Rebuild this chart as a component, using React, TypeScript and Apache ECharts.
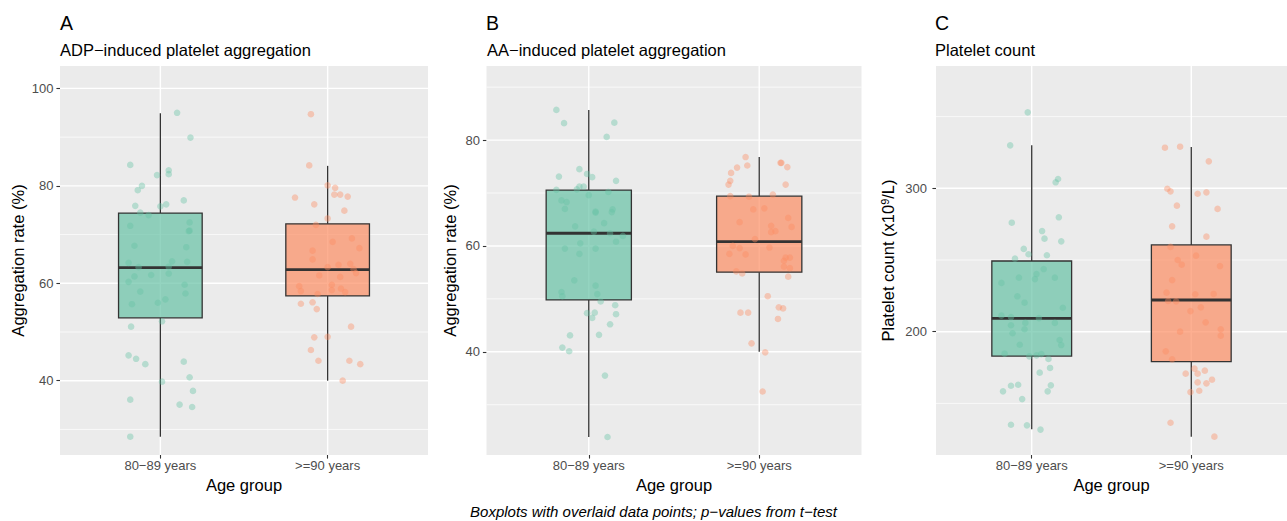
import React, { useEffect, useRef } from "react";
import * as echarts from "echarts";

const FONT = '"Liberation Sans", Arial, Helvetica, sans-serif';

// ---------- categories / texts ----------
const groups = ["80−89 years", ">=90 years"];
const groupPos = [1, 2];
const panelTags = ["A", "B", "C"];
const panelTitles = [
  "ADP−induced platelet aggregation",
  "AA−induced platelet aggregation",
  "Platelet count",
];
const xTitle = "Age group";
const yTitles = [
  "Aggregation rate (%)",
  "Aggregation rate (%)",
  "{t|Platelet count (x10}{s|9}{t|/L)}",
];
const caption = "Boxplots with overlaid data points; p−values from t−test";

// ---------- axis ticks ----------
const adpTicks = [40, 60, 80, 100];
const adpMinor = [30, 50, 70, 90];
const adpRange = [24.75, 104.6];
const aaTicks = [40, 60, 80];
const aaMinor = [30, 50, 70, 90];
const aaRange = [20.5, 94.0];
const pltTicks = [200, 300];
const pltMinor = [150, 250, 350];
const pltRange = [114.0, 385.3];
const xRange = [0.4, 2.6];

// ---------- box statistics: [lower whisker, Q1, median, Q3, upper whisker] ----------
const adpBox = [
  [28.5, 52.9, 63.2, 74.4, 94.9],
  [40.0, 57.4, 62.8, 72.2, 84.1],
];
const aaBox = [
  [23.9, 49.8, 62.4, 70.55, 85.7],
  [40.0, 55.05, 60.8, 69.4, 76.8],
];
const pltBox = [
  [131.9, 183.0, 209.3, 249.3, 330.0],
  [126.8, 179.1, 222.1, 260.5, 328.8],
];

// ---------- individual points (values + horizontal jitter) ----------
const adpYoungVals = [95.0, 89.9, 84.3, 83.2, 82.4, 82.2, 80.0, 79.1, 77.0, 76.2, 75.8, 75.9, 74.5, 74.0, 71.8, 72.5, 70.8, 70.7, 67.7, 67.4, 64.2, 64.5, 64.4, 63.3, 63.4, 61.7, 62.0, 61.4, 60.3, 59.7, 58.3, 57.9, 56.7, 55.7, 56.0, 52.2, 51.1, 45.2, 44.5, 43.4, 43.9, 39.8, 40.7, 37.9, 36.1, 35.1, 34.6, 28.5];
const adpYoungJit = [0.10, 0.18, -0.18, 0.05, 0.05, -0.02, -0.11, -0.135, 0.14, 0.035, 0.0, -0.15, -0.12, -0.07, -0.18, 0.175, 0.175, 0.17, -0.155, 0.155, -0.19, 0.07, 0.16, -0.13, 0.05, -0.055, 0.05, -0.155, -0.19, 0.145, -0.12, 0.15, 0.03, -0.17, -0.015, 0.01, -0.175, -0.19, -0.145, -0.09, 0.14, 0.01, 0.175, 0.195, -0.18, 0.115, 0.19, -0.18];
const adpOldVals = [94.7, 84.2, 80.1, 79.6, 78.2, 78.2, 77.8, 77.6, 76.2, 74.9, 73.3, 72.0, 69.2, 68.5, 67.2, 66.7, 64.9, 63.3, 63.8, 64.0, 62.9, 62.1, 61.6, 61.3, 59.4, 59.7, 58.9, 58.4, 58.6, 58.2, 57.8, 55.8, 56.1, 54.7, 51.1, 48.9, 49.0, 46.3, 44.1, 44.1, 43.4, 40.0];
const adpOldJit = [-0.10, -0.11, 0.0, 0.045, 0.04, 0.075, 0.12, -0.195, -0.08, 0.10, 0.0, -0.07, 0.145, 0.03, 0.19, -0.09, -0.09, 0.0, 0.065, 0.135, 0.155, 0.17, -0.05, 0.075, -0.17, 0.025, 0.08, -0.16, 0.025, 0.105, -0.06, -0.16, -0.09, -0.065, 0.14, -0.08, 0.0, -0.10, -0.055, 0.13, 0.195, 0.09];

const aaYoungVals = [85.7, 83.2, 83.3, 80.6, 74.5, 73.1, 73.6, 73.0, 72.3, 70.6, 70.7, 71.2, 71.2, 69.6, 70.2, 68.6, 68.3, 67.0, 66.5, 66.3, 66.4, 66.9, 64.3, 63.7, 62.7, 62.4, 61.9, 60.8, 60.5, 59.5, 59.5, 58.5, 53.5, 52.5, 51.3, 50.5, 50.9, 49.5, 48.8, 47.3, 47.4, 46.4, 47.1, 45.2, 43.1, 43.2, 40.8, 40.1, 35.5, 23.9];
const aaYoungJit = [-0.19, -0.145, 0.15, 0.105, -0.055, -0.175, -0.01, 0.02, 0.16, -0.19, -0.07, -0.055, -0.03, 0.0, 0.115, -0.16, -0.13, -0.14, 0.04, 0.04, 0.135, 0.14, 0.09, -0.08, 0.03, 0.125, 0.2, 0.16, -0.05, -0.14, 0.04, -0.055, -0.085, 0.04, -0.16, -0.155, 0.05, 0.07, 0.155, -0.01, 0.035, 0.02, 0.16, 0.125, -0.11, 0.06, -0.155, -0.115, 0.095, 0.11];
const aaOldVals = [76.8, 74.8, 75.2, 73.8, 75.7, 75.7, 74.9, 72.3, 71.6, 71.6, 69.4, 69.3, 69.7, 66.9, 67.1, 64.5, 65.3, 63.6, 63.8, 62.8, 62.6, 61.3, 60.0, 59.6, 59.7, 58.5, 58.4, 57.8, 57.8, 57.2, 56.1, 55.8, 55.2, 54.8, 54.2, 50.5, 47.4, 47.4, 48.4, 48.2, 46.2, 41.6, 39.9, 32.5];
const aaOldJit = [-0.08, -0.13, -0.07, -0.165, 0.125, 0.13, 0.165, -0.17, -0.18, 0.155, -0.17, -0.06, 0.08, -0.035, 0.03, -0.115, 0.17, 0.19, 0.07, 0.095, 0.07, -0.025, -0.155, -0.115, 0.06, -0.175, -0.08, 0.155, 0.18, 0.145, 0.145, 0.18, -0.135, -0.10, 0.17, 0.05, -0.11, -0.065, 0.115, 0.14, 0.11, -0.045, 0.035, 0.02];

const pltYoungVals = [353.0, 330.0, 306.5, 304.2, 276.0, 279.8, 270.2, 264.9, 263.0, 257.7, 254.0, 253.3, 250.9, 243.7, 240.2, 237.7, 237.7, 236.7, 234.0, 224.7, 220.2, 216.7, 211.2, 210.2, 209.5, 204.5, 206.1, 206.1, 201.7, 198.9, 194.2, 190.7, 190.9, 184.7, 182.8, 183.5, 184.4, 181.0, 174.7, 171.4, 162.3, 163.0, 162.6, 158.4, 158.4, 153.0, 135.1, 134.7, 131.7];
const pltYoungJit = [-0.025, -0.135, 0.165, 0.15, -0.125, 0.17, 0.065, 0.08, 0.185, -0.05, -0.02, 0.095, -0.105, 0.075, 0.03, -0.08, 0.145, 0.02, -0.19, -0.09, -0.045, 0.195, -0.19, -0.13, 0.045, -0.13, -0.04, 0.145, -0.045, -0.12, 0.175, 0.185, -0.075, -0.17, -0.015, 0.03, 0.06, 0.105, 0.115, 0.05, -0.13, -0.085, 0.12, -0.18, 0.10, -0.06, -0.13, -0.03, 0.055];
const pltOldVals = [328.3, 329.0, 318.8, 299.7, 297.9, 296.2, 297.2, 287.9, 285.6, 273.5, 266.3, 259.1, 253.0, 250.0, 246.7, 245.8, 236.0, 227.2, 226.1, 226.3, 221.4, 221.2, 217.0, 214.4, 206.5, 201.7, 197.2, 200.0, 186.3, 180.7, 174.2, 172.8, 170.7, 170.7, 166.5, 164.7, 164.0, 157.9, 158.8, 136.5, 126.8];
const pltOldJit = [-0.165, -0.07, 0.11, -0.15, -0.13, 0.04, 0.095, -0.09, 0.165, -0.12, 0.095, -0.13, 0.03, -0.085, -0.06, 0.18, -0.12, -0.155, 0.025, 0.14, -0.145, -0.095, 0.06, -0.005, 0.09, 0.185, 0.185, -0.07, -0.16, -0.12, 0.02, 0.085, -0.035, 0.04, 0.13, 0.04, 0.095, -0.005, 0.05, -0.13, 0.145];

// ---------- styling ----------
const boxFill = ["rgba(102,194,165,0.7)", "rgba(252,141,98,0.7)"];
const pointFill = ["rgba(102,194,165,0.5)", "rgba(252,141,98,0.5)"];
const panelBg = "#EBEBEB";
const dark = "#333333";
const tickText = "#4D4D4D";

type Panel = {
  grid: { left: number; top: number; width: number; height: number };
  range: number[];
  ticks: number[];
  minor: number[];
  box: number[][];
  pts: { vals: number[]; jit: number[] }[];
  nameGap: number;
  labelMargin: number;
  tagX: number;
  titleX: number;
};

const panels: Panel[] = [
  {
    grid: { left: 60, top: 66, width: 368, height: 389 },
    range: adpRange, ticks: adpTicks, minor: adpMinor, box: adpBox,
    pts: [{ vals: adpYoungVals, jit: adpYoungJit }, { vals: adpOldVals, jit: adpOldJit }],
    nameGap: 34, labelMargin: 6.5, tagX: 60, titleX: 60,
  },
  {
    grid: { left: 486.5, top: 66, width: 375, height: 389 },
    range: aaRange, ticks: aaTicks, minor: aaMinor, box: aaBox,
    pts: [{ vals: aaYoungVals, jit: aaYoungJit }, { vals: aaOldVals, jit: aaOldJit }],
    nameGap: 28, labelMargin: 6.5, tagX: 486, titleX: 487,
  },
  {
    grid: { left: 936, top: 66, width: 360, height: 389 },
    range: pltRange, ticks: pltTicks, minor: pltMinor, box: pltBox,
    pts: [{ vals: pltYoungVals, jit: pltYoungJit }, { vals: pltOldVals, jit: pltOldJit }],
    nameGap: 40, labelMargin: 9, tagX: 935, titleX: 935,
  },
];

function hLineRender(width: number) {
  return (params: any, api: any) => {
    const v = api.value(1);
    const p1 = api.coord([xRange[0], v]);
    const p2 = api.coord([xRange[1], v]);
    return {
      type: "line",
      shape: { x1: p1[0], y1: p1[1], x2: p2[0], y2: p2[1] },
      style: { stroke: "#FFFFFF", lineWidth: width },
      silent: true,
    };
  };
}

function vLineRender(range: number[], width: number) {
  return (params: any, api: any) => {
    const x = api.value(0);
    const p1 = api.coord([x, range[0]]);
    const p2 = api.coord([x, range[1]]);
    return {
      type: "line",
      shape: { x1: p1[0], y1: p1[1], x2: p2[0], y2: p2[1] },
      style: { stroke: "#FFFFFF", lineWidth: width },
      silent: true,
    };
  };
}

function boxRender(params: any, api: any) {
  const x = api.value(0);
  const pLo = api.coord([x, api.value(1)]);
  const pQ1 = api.coord([x, api.value(2)]);
  const pMed = api.coord([x, api.value(3)]);
  const pQ3 = api.coord([x, api.value(4)]);
  const pHi = api.coord([x, api.value(5)]);
  const half = api.size([0.25, 0])[0];
  return {
    type: "group",
    children: [
      { type: "line", shape: { x1: pHi[0], y1: pHi[1], x2: pQ3[0], y2: pQ3[1] }, style: { stroke: dark, lineWidth: 1.3 } },
      { type: "line", shape: { x1: pQ1[0], y1: pQ1[1], x2: pLo[0], y2: pLo[1] }, style: { stroke: dark, lineWidth: 1.3 } },
      {
        type: "rect",
        shape: { x: pQ3[0] - half, y: pQ3[1], width: half * 2, height: pQ1[1] - pQ3[1] },
        style: { fill: boxFill[params.dataIndex], stroke: dark, lineWidth: 1.3 },
      },
      { type: "line", shape: { x1: pMed[0] - half, y1: pMed[1], x2: pMed[0] + half, y2: pMed[1] }, style: { stroke: dark, lineWidth: 2.8 } },
    ],
  };
}

function buildOption() {
  const grid: any[] = [];
  const xAxis: any[] = [];
  const yAxis: any[] = [];
  const series: any[] = [];
  const graphic: any[] = [];

  panels.forEach((p, i) => {
    grid.push({ ...p.grid, show: true, backgroundColor: panelBg, borderWidth: 0, containLabel: false });
    xAxis.push({
      gridIndex: i,
      type: "value",
      min: xRange[0],
      max: xRange[1],
      axisLine: { show: false },
      splitLine: { show: false },
      axisTick: { show: true, customValues: groupPos, length: 3.6, lineStyle: { color: dark, width: 1.1 } },
      axisLabel: {
        customValues: groupPos,
        formatter: (v: number) => groups[Math.round(v) - 1] ?? "",
        color: tickText,
        fontSize: 13,
        fontFamily: FONT,
        margin: 4,
      },
      name: xTitle,
      nameLocation: "middle",
      nameGap: 20,
      nameTextStyle: { fontSize: 16.5, color: "#000", fontFamily: FONT },
    });
    yAxis.push({
      gridIndex: i,
      type: "value",
      min: p.range[0],
      max: p.range[1],
      axisLine: { show: false },
      splitLine: { show: false },
      axisTick: { show: true, customValues: p.ticks, length: 3.6, lineStyle: { color: dark, width: 1.1 } },
      axisLabel: {
        customValues: p.ticks,
        color: tickText,
        fontSize: 13,
        fontFamily: FONT,
        margin: p.labelMargin,
      },
      name: yTitles[i],
      nameLocation: "middle",
      nameGap: p.nameGap,
      nameTextStyle: {
        fontSize: 16.5,
        color: "#000",
        fontFamily: FONT,
        rich: {
          t: { fontSize: 16.5, color: "#000", fontFamily: FONT },
          s: { fontSize: 11, color: "#000", fontFamily: FONT, verticalAlign: "top", padding: [0, 0, 6, 0] },
        },
      },
    });

    // grid lines (minor then major)
    series.push({
      type: "custom", xAxisIndex: i, yAxisIndex: i, z: 1, silent: true, clip: false,
      renderItem: hLineRender(0.7),
      data: p.minor.map((v) => [1.5, v]),
    });
    series.push({
      type: "custom", xAxisIndex: i, yAxisIndex: i, z: 1, silent: true, clip: false,
      renderItem: hLineRender(1.4),
      data: p.ticks.map((v) => [1.5, v]),
    });
    series.push({
      type: "custom", xAxisIndex: i, yAxisIndex: i, z: 1, silent: true, clip: false,
      renderItem: vLineRender(p.range, 1.4),
      data: groupPos.map((x) => [x, p.range[0]]),
    });
    // boxes
    series.push({
      type: "custom", xAxisIndex: i, yAxisIndex: i, z: 2, silent: true,
      renderItem: boxRender,
      encode: { x: 0, y: [1, 2, 3, 4, 5] },
      data: p.box.map((s, g) => [groupPos[g], ...s]),
    });
    // points
    p.pts.forEach((g, gi) => {
      series.push({
        type: "scatter", xAxisIndex: i, yAxisIndex: i, z: 3, silent: true,
        symbol: "circle", symbolSize: 6.6,
        itemStyle: { color: pointFill[gi], borderWidth: 0 },
        data: g.vals.map((v, k) => [groupPos[gi] + g.jit[k], v]),
      });
    });

    graphic.push({
      type: "text", x: p.tagX, y: 23,
      style: { text: panelTags[i], fontSize: 19.5, fontFamily: FONT, fill: "#000", align: "left", verticalAlign: "middle", textAlign: "left", textVerticalAlign: "middle" },
    });
    graphic.push({
      type: "text", x: p.titleX, y: 49.5,
      style: { text: panelTitles[i], fontSize: 16.5, fontFamily: FONT, fill: "#000", align: "left", verticalAlign: "middle", textAlign: "left", textVerticalAlign: "middle" },
    });
  });

  graphic.push({
    type: "text", x: 653.5, y: 511.5,
    style: { text: caption, fontSize: 15, fontStyle: "italic", fontFamily: FONT, fill: "#000", align: "center", verticalAlign: "middle", textAlign: "center", textVerticalAlign: "middle" },
  });

  return {
    animation: false,
    backgroundColor: "#FFFFFF",
    textStyle: { fontFamily: FONT },
    grid, xAxis, yAxis, series, graphic,
  };
}

export default function App() {
  const ref = useRef<HTMLDivElement>(null);
  useEffect(() => {
    if (!ref.current) return;
    const chart = echarts.init(ref.current, undefined, { renderer: "svg" });
    chart.setOption(buildOption() as any);
    return () => chart.dispose();
  }, []);
  return (
    <div
      ref={ref}
      style={{ position: "absolute", left: 0, top: 0, width: 1287, height: 521, overflow: "hidden" }}
    />
  );
}
